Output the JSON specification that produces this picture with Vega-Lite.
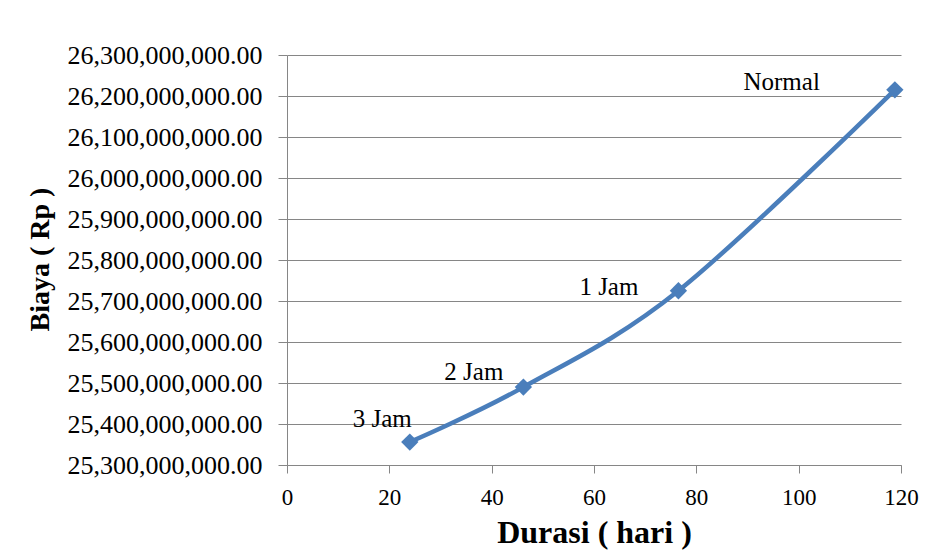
{
  "$schema": "https://vega.github.io/schema/vega-lite/v6.json",
  "autosize": "none",
  "width": 614,
  "height": 410,
  "padding": {"left": 287, "top": 55, "right": 51, "bottom": 93},
  "background": "white",
  "config": {
    "font": "Liberation Serif",
    "view": {"stroke": null},
    "axis": {
      "domainColor": "#868686",
      "tickColor": "#868686",
      "gridColor": "#868686",
      "labelColor": "black",
      "titleColor": "black",
      "labelFont": "Liberation Serif",
      "titleFont": "Liberation Serif",
      "titleFontWeight": "bold",
      "labelLimit": 0
    }
  },
  "data": {
    "values": [
      {"skenario": "3 Jam", "durasi": 24.0, "biaya": 25356000000},
      {"skenario": "2 Jam", "durasi": 46.2, "biaya": 25490000000},
      {"skenario": "1 Jam", "durasi": 76.5, "biaya": 25725000000},
      {"skenario": "Normal", "durasi": 118.8, "biaya": 26215000000}
    ]
  },
  "encoding": {
    "x": {
      "field": "durasi",
      "type": "quantitative",
      "scale": {"domain": [0, 120], "nice": false, "zero": false},
      "axis": {
        "title": "Durasi ( hari )",
        "values": [0, 20, 40, 60, 80, 100, 120],
        "grid": false,
        "tickSize": 8,
        "labelPadding": 13,
        "labelFont": "Liberation Serif",
        "labelFontSize": 23,
        "labelFlush": false,
        "titleFont": "Liberation Serif",
        "titleFontSize": 32,
        "titlePadding": 8
      }
    },
    "y": {
      "field": "biaya",
      "type": "quantitative",
      "scale": {"domain": [25300000000, 26300000000], "nice": false, "zero": false},
      "axis": {
        "title": "Biaya ( Rp )",
        "format": ",.2f",
        "values": [25300000000, 25400000000, 25500000000, 25600000000, 25700000000, 25800000000, 25900000000, 26000000000, 26100000000, 26200000000, 26300000000],
        "grid": true,
        "tickSize": 9,
        "labelPadding": 16,
        "labelFont": "Liberation Serif",
        "labelFontSize": 26,
        "labelLimit": 0,
        "titleFont": "Liberation Serif",
        "titleFontSize": 28,
        "titleAngle": -90,
        "titleAlign": "center",
        "titleBaseline": "middle",
        "titleX": -247,
        "titleY": 204
      }
    }
  },
  "layer": [
    {
      "mark": {"type": "line", "interpolate": "cardinal", "color": "#4A7EBB", "strokeWidth": 4.5}
    },
    {
      "mark": {"type": "point", "shape": "diamond", "filled": true, "size": 300, "color": "#4A7EBB", "opacity": 1}
    },
    {
      "transform": [{"filter": "datum.skenario === '3 Jam'"}],
      "mark": {"type": "text", "align": "right", "baseline": "alphabetic", "fontSize": 25, "dx": 2, "dy": -15, "color": "black"},
      "encoding": {"text": {"field": "skenario"}}
    },
    {
      "transform": [{"filter": "datum.skenario === '2 Jam'"}],
      "mark": {"type": "text", "align": "right", "baseline": "alphabetic", "fontSize": 25, "dx": -20, "dy": -7, "color": "black"},
      "encoding": {"text": {"field": "skenario"}}
    },
    {
      "transform": [{"filter": "datum.skenario === '1 Jam'"}],
      "mark": {"type": "text", "align": "right", "baseline": "alphabetic", "fontSize": 25, "dx": -40, "dy": 4, "color": "black"},
      "encoding": {"text": {"field": "skenario"}}
    },
    {
      "transform": [{"filter": "datum.skenario === 'Normal'"}],
      "mark": {"type": "text", "align": "right", "baseline": "alphabetic", "fontSize": 25, "dx": -75, "dy": 0, "color": "black"},
      "encoding": {"text": {"field": "skenario"}}
    }
  ]
}
